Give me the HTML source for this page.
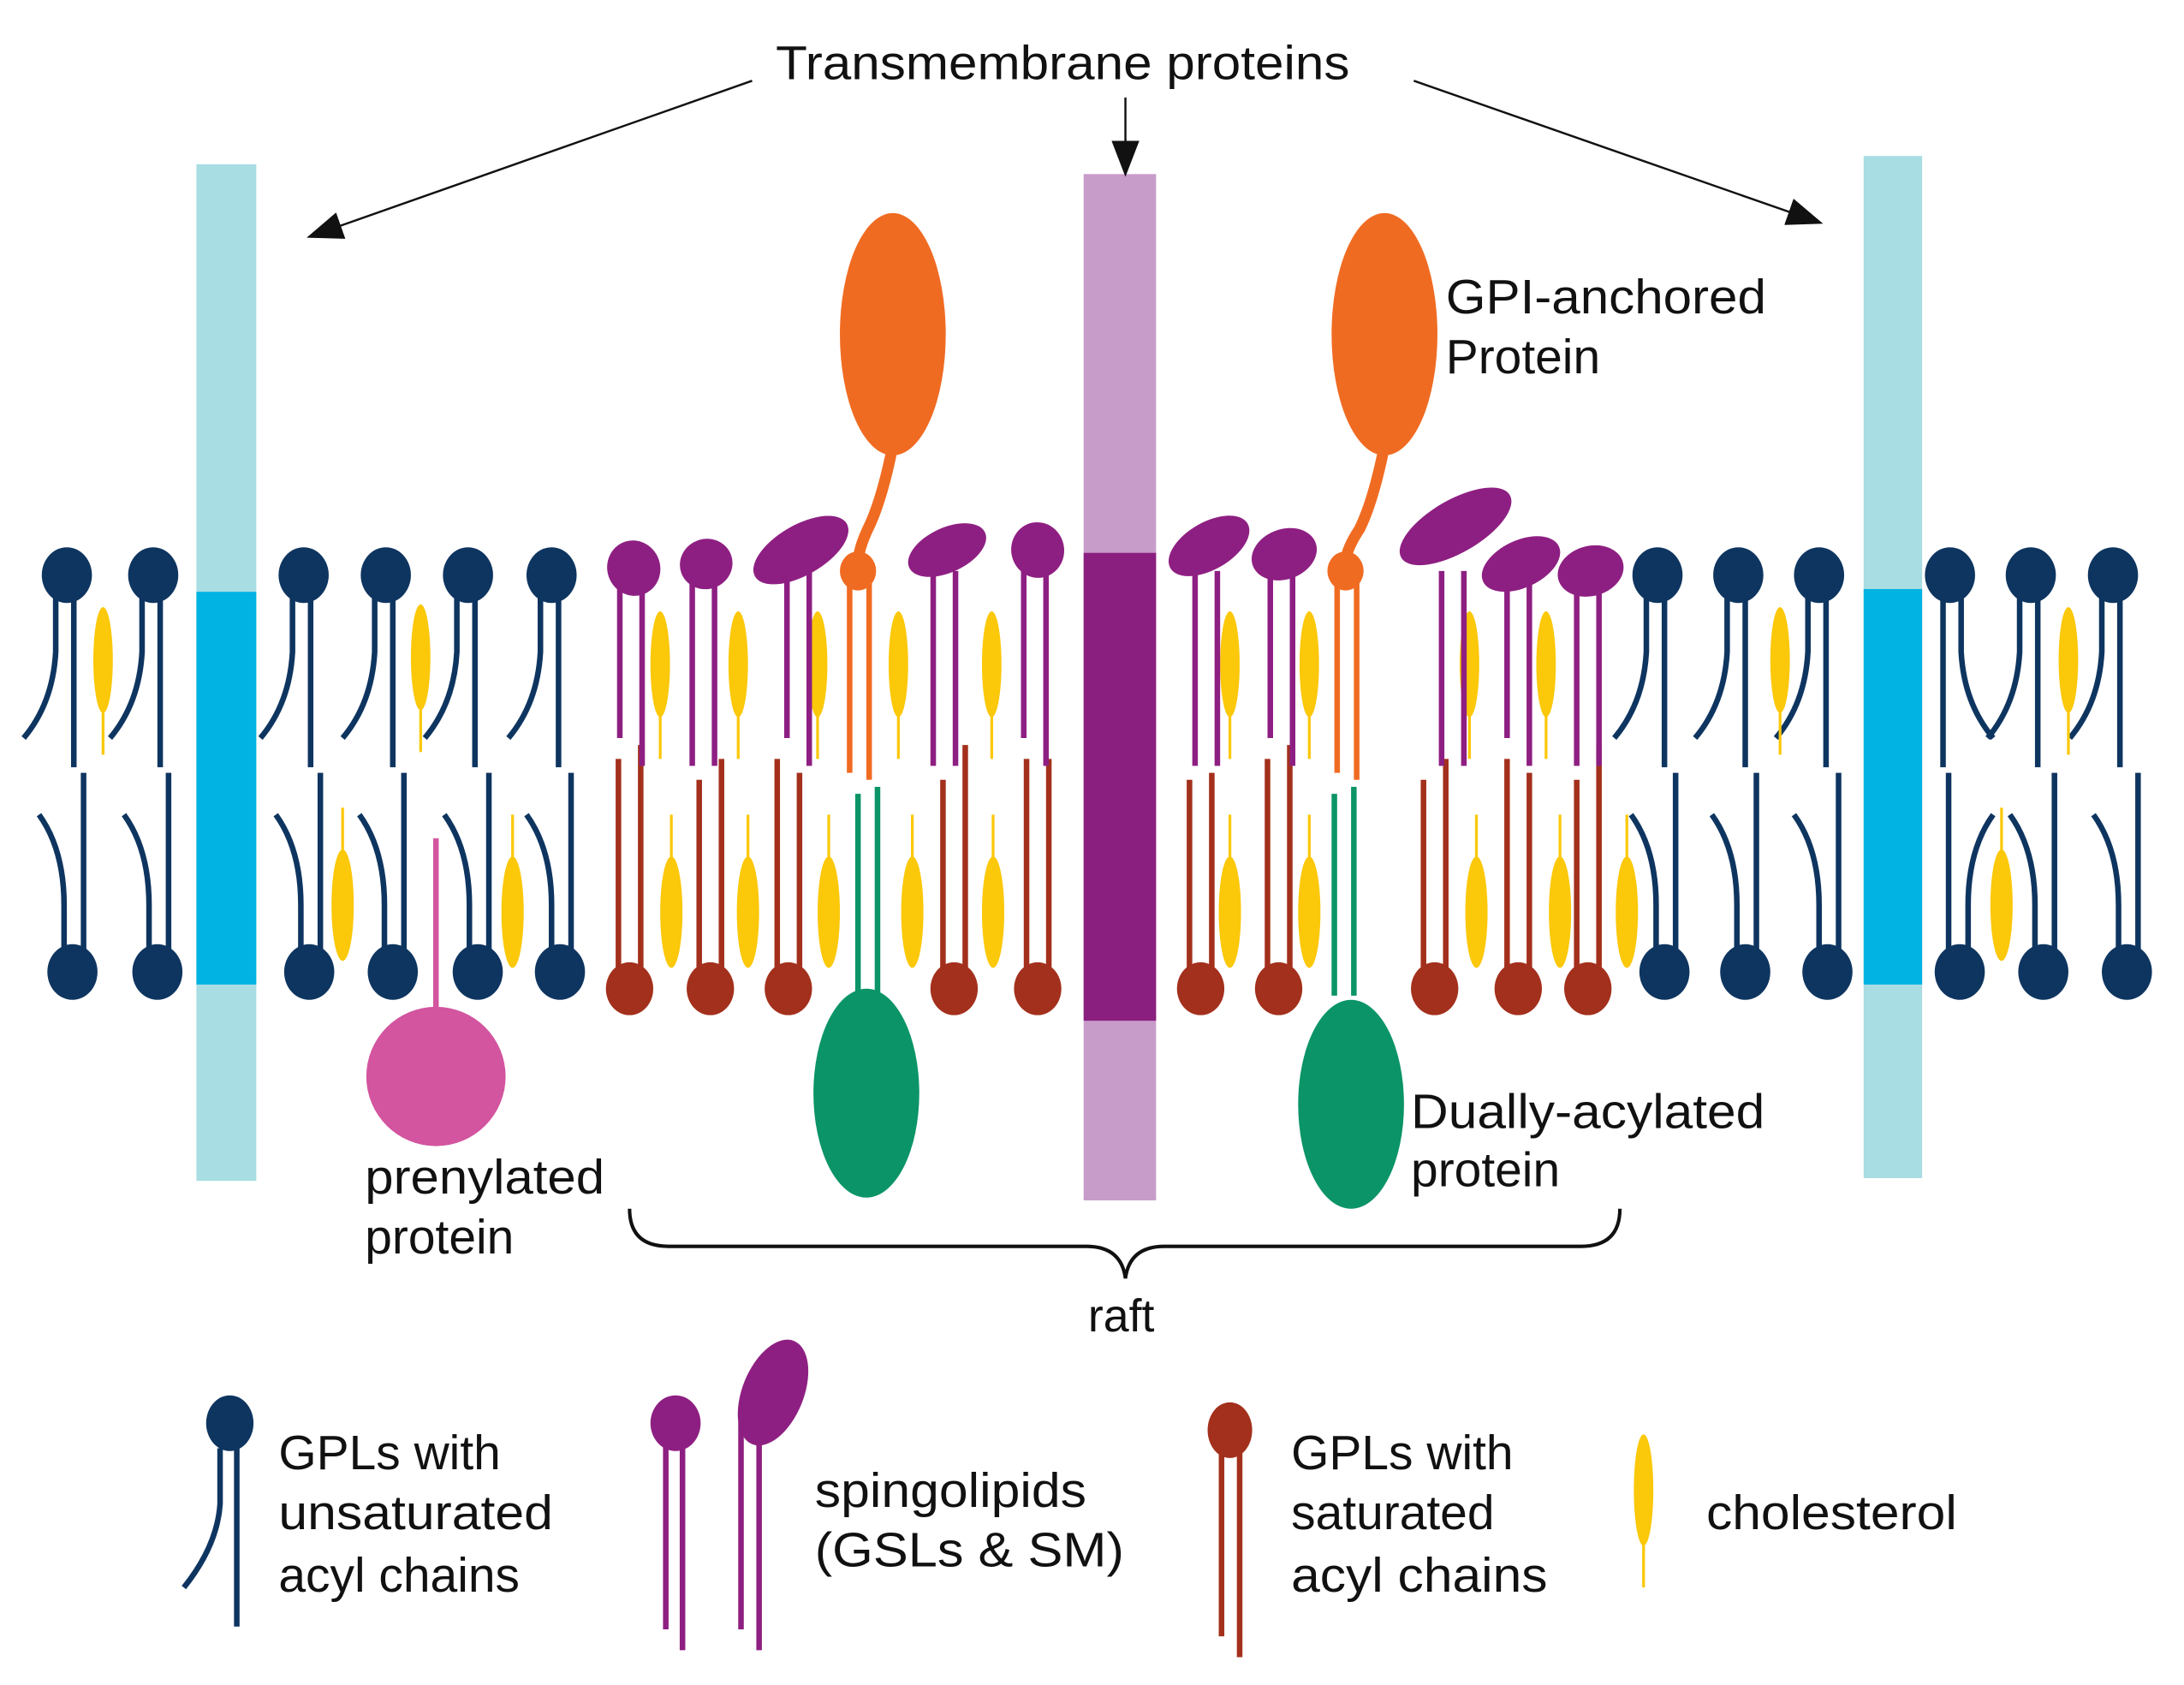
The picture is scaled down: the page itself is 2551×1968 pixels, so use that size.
<!DOCTYPE html>
<html><head><meta charset="utf-8">
<style>
html,body{margin:0;padding:0;background:#fff;}
svg{display:block;}
text{font-family:"Liberation Sans",sans-serif;fill:#111;}
</style></head>
<body>
<svg id="s" width="2551" height="1968" viewBox="0 0 1568 1210" preserveAspectRatio="none" xmlns="http://www.w3.org/2000/svg">
<defs>
<marker id="ah2" markerWidth="26" markerHeight="20" refX="24" refY="10" orient="auto" markerUnits="userSpaceOnUse" viewBox="0 0 26 20">
<path d="M0,0 L26,10 L0,20 z" fill="#111"/></marker>
</defs>
<g id="g"></g>
<text x="763" y="57" font-size="34" text-anchor="middle" textLength="412" lengthAdjust="spacingAndGlyphs">Transmembrane proteins</text>
<line x1="540" y1="58" x2="222" y2="170" stroke="#111" stroke-width="1.5" marker-end="url(#ah2)"/>
<line x1="808" y1="70" x2="808" y2="125" stroke="#111" stroke-width="1.5" marker-end="url(#ah2)"/>
<line x1="1015" y1="58" x2="1307" y2="160" stroke="#111" stroke-width="1.5" marker-end="url(#ah2)"/>
<text x="1038" y="225" font-size="35" textLength="230" lengthAdjust="spacingAndGlyphs">GPI-anchored</text>
<text x="1038" y="268" font-size="35">Protein</text>
<text x="1013" y="810" font-size="35" textLength="254" lengthAdjust="spacingAndGlyphs">Dually-acylated</text>
<text x="1013" y="852" font-size="35">protein</text>
<text x="262" y="857" font-size="35" textLength="172" lengthAdjust="spacingAndGlyphs">prenylated</text>
<text x="262" y="900" font-size="35">protein</text>
<path d="M452,868 Q452,895 480,895 L780,895 Q805,895 808,918 Q811,895 836,895 L1135,895 Q1163,895 1163,868" fill="none" stroke="#111" stroke-width="2.5"/>
<text x="805" y="956" font-size="33" text-anchor="middle">raft</text>
<text x="200" y="1055" font-size="35">GPLs with</text>
<text x="200" y="1098" font-size="35" textLength="197" lengthAdjust="spacingAndGlyphs">unsaturated</text>
<text x="200" y="1143" font-size="35">acyl chains</text>
<text x="585" y="1082" font-size="35" textLength="195" lengthAdjust="spacingAndGlyphs">spingolipids</text>
<text x="585" y="1125" font-size="35" textLength="222" lengthAdjust="spacingAndGlyphs">(GSLs &amp; SM)</text>
<text x="927" y="1055" font-size="35">GPLs with</text>
<text x="927" y="1098" font-size="35">saturated</text>
<text x="927" y="1143" font-size="35" textLength="184" lengthAdjust="spacingAndGlyphs">acyl chains</text>
<text x="1225" y="1098" font-size="35" textLength="180" lengthAdjust="spacingAndGlyphs">cholesterol</text>
</svg>
<script>
var B='#0e3560',P='#8e1f82',R='#a3301c',Y='#fbc80a',O='#f06b22',G='#0b9467',K='#d3549f';
var h='';
function rect(x,y,w,hh,c){h+='<rect x="'+x+'" y="'+y+'" width="'+w+'" height="'+hh+'" fill="'+c+'"/>';}
function ell(x,y,rx,ry,c,rot){h+='<ellipse cx="'+x+'" cy="'+y+'" rx="'+rx+'" ry="'+ry+'" fill="'+c+'"'+(rot?' transform="rotate('+rot+' '+x+' '+y+')"':'')+'/>';}
function ln(x1,y1,x2,y2,c,w){h+='<line x1="'+x1+'" y1="'+y1+'" x2="'+x2+'" y2="'+y2+'" stroke="'+c+'" stroke-width="'+(w||4)+'"/>';}
function pth(d,c,w){h+='<path d="'+d+'" fill="none" stroke="'+c+'" stroke-width="'+(w||4)+'"/>';}
function cholU(x,y){ell(x,y+37,7,38,Y);ln(x,y+70,x,y+105,Y,2);}
function cholL(x,y){ln(x,y,x,y+35,Y,2);ell(x,y+70,8,40,Y);}
rect(141,118,43,730,'#a8dde3');rect(141,425,43,282,'#00b3e3');
rect(1338,112,42,734,'#a8dde3');rect(1338,423,42,284,'#00b3e3');
rect(778,125,52,737,'#c89cc9');rect(778,397,52,336,'#8b1f7f');
function bu(x,m){ell(x,413,18,20,B);
 if(!m){ln(x+5,425,x+5,551,B);pth('M'+(x-8)+',425 L'+(x-8)+',468 Q'+(x-10)+',505 '+(x-31)+',530',B);}
 else{ln(x-5,425,x-5,551,B);pth('M'+(x+8)+',425 L'+(x+8)+',468 Q'+(x+10)+',505 '+(x+31)+',530',B);}}
function bl(x,m){ell(x,698,18,20,B);
 if(!m){ln(x+8,555,x+8,690,B);pth('M'+(x-24)+',585 Q'+(x-6)+',610 '+(x-6)+',650 L'+(x-6)+',688',B);}
 else{ln(x-8,555,x-8,690,B);pth('M'+(x+24)+',585 Q'+(x+6)+',610 '+(x+6)+',650 L'+(x+6)+',688',B);}}
[48,110,218,277,336,396,1190,1248,1306,1458,1517].forEach(function(x){bu(x);});bu(1400,1);
[52,113,222,282,343,402,1195,1253,1312,1467,1527].forEach(function(x){bl(x);});bl(1407,1);
cholU(74,437);cholU(302,435);cholU(1278,437);cholU(1485,437);
cholL(246,580);cholL(368,585);cholL(1437,580);
[474,530,587,645,712,883,940,1055,1110].forEach(function(x){cholU(x,440);});
[482,537,595,655,713,883,940,1060,1120,1168].forEach(function(x){cholL(x,585);});
[452,510,566,685,745,862,918,1030,1090,1140].forEach(function(x,i){
 ln(x-8,545+(i%2)*15,x-8,700,R);ln(x+8,535+(i%3)*10,x+8,700,R);ell(x,710,17,19,R);});
var pu=[[455,408,19,20,-20],[507,405,19,18,-20],[575,395,38,18,-30],[680,395,30,16,-25],[745,395,19,20,-10],[868,392,32,17,-30],[922,398,24,18,-20],[1045,378,45,19,-30],[1092,405,30,17,-25],[1142,410,24,18,-15]];
pu.forEach(function(p,i){var x=p[0];ln(x-10,410,x-10,530+(i%2)*20,P);ln(x+6,410,x+6,550,P);ell(x,p[1],p[2],p[3],P,p[4]);});
function gpi(cx,sx){ell(cx,240,38,87,O);pth('M'+cx+',320 Q'+(cx-8)+',360 '+(cx-18)+',380 Q'+(sx)+',395 '+sx+',405',O,8);ln(sx-6,410,sx-6,555,O);ln(sx+8,410,sx+8,560,O);ell(sx,410,13,14,O);}
gpi(641,616);gpi(994,966);
function gr(x,y,sx){ln(sx-6,570,sx-6,715,G);ln(sx+8,565,sx+8,715,G);ell(x,y,38,75,G);}
gr(622,785,622);gr(970,793,964);
ln(313,602,313,728,K,4);ell(313,773,50,50,K);
ell(165,1022,17,20,B);ln(170,1040,170,1168,B);pth('M158,1040 L158,1080 Q156,1110 132,1140',B);
ln(478,1035,478,1170,P);ln(490,1035,490,1185,P);ell(485,1022,18,20,P);
ln(532,1020,532,1170,P);ln(545,1020,545,1185,P);ell(555,1000,22,40,P,22);
ln(877,1040,877,1175,R);ln(890,1040,890,1190,R);ell(883,1027,16,20,R);
ell(1180,1070,7,40,Y);ln(1180,1100,1180,1140,Y,2);
document.getElementById('g').innerHTML=h;
</script>
</body></html>
